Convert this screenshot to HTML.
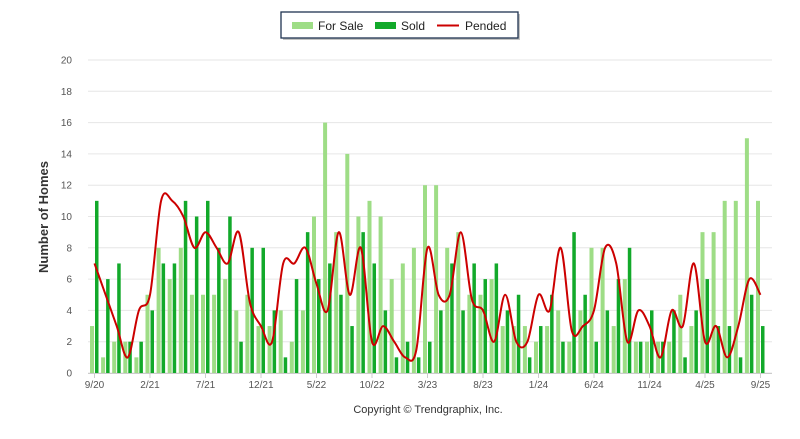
<!DOCTYPE html>
<html><head><meta charset="utf-8"><style>
body{margin:0;background:#fff;width:800px;height:434px;overflow:hidden;font-family:"Liberation Sans",Arial,sans-serif}
</style></head><body>
<svg id="c" width="800" height="434" xmlns="http://www.w3.org/2000/svg" font-family="Liberation Sans, Arial, sans-serif">
<rect x="283" y="14" width="237" height="26" fill="#888" opacity="0.5"/>
<rect x="281" y="12" width="237" height="26" fill="#fff" stroke="#1f3350" stroke-width="1.3"/>
<rect x="292" y="22" width="21" height="7" fill="#9edd86"/>
<text x="318" y="30" font-size="12" fill="#222">For Sale</text>
<rect x="375" y="22" width="21" height="7" fill="#12a92a"/>
<text x="401" y="30" font-size="12" fill="#222">Sold</text>
<line x1="437" y1="25.5" x2="459" y2="25.5" stroke="#cc0000" stroke-width="2"/>
<text x="465" y="30" font-size="12" fill="#222">Pended</text>
<text transform="translate(48,217) rotate(-90)" text-anchor="middle" font-size="13" font-weight="bold" fill="#333">Number of Homes</text>
<text x="428" y="413" text-anchor="middle" font-size="11" fill="#333">Copyright © Trendgraphix, Inc.</text>
<g id="g"></g>
</svg>
<script>
var fs=[3,1,2,2,1,5,8,6,8,5,5,5,6,4,5,3,3,4,2,4,10,16,9,14,10,11,10,6,7,8,12,12,8,9,5,5,6,3,3,3,2,3,4,2,4,8,8,3,6,2,2,2,2,5,3,9,9,11,11,15,11];
var sd=[11,6,7,2,2,4,7,7,11,10,11,8,10,2,8,8,4,1,6,9,6,7,5,3,9,7,4,1,2,1,2,4,7,4,7,6,7,4,5,1,3,5,2,9,5,2,4,6,8,2,4,2,4,1,4,6,3,3,1,5,3];
var pd=[7,5,3,1,4,5,11,11,10,8,9,8,7,9,4.5,3,2,7,7,8,5.7,4,9,5,8,2,3,2,1,1.5,8,5,5,9,4.7,4,2,5,2,2,5,4,8,2.7,3,4,8,7,2,4,3,1,4,3,7,2,3,1,3,6,5];
var y0=373,u=15.65,s='';
function X(i){return 94.5+11.1*i}
function Y(v){return y0-v*u}
for(var v=0;v<=20;v+=2){s+='<line x1="88" x2="772" y1="'+Y(v)+'" y2="'+Y(v)+'" stroke="#e6e6e6"/>';
s+='<text x="72" y="'+(Y(v)+3.5)+'" text-anchor="end" font-size="10" fill="#555">'+v+'</text>';}
for(var i=0;i<61;i++){var x=X(i);
s+='<rect x="'+(x-4.5)+'" y="'+Y(fs[i])+'" width="4" height="'+(fs[i]*u)+'" fill="#9edd86"/>';
s+='<rect x="'+(x+0.5)+'" y="'+Y(sd[i])+'" width="3.5" height="'+(sd[i]*u)+'" fill="#12a92a"/>';}
s+='<line x1="88" x2="772" y1="373.5" y2="373.5" stroke="#ccc"/>';
var lb=['9/20','2/21','7/21','12/21','5/22','10/22','3/23','8/23','1/24','6/24','11/24','4/25','9/25'];
for(var k=0;k<13;k++){var x=X(k*5);s+='<line x1="'+x+'" x2="'+x+'" y1="373" y2="378" stroke="#ccc"/>';
s+='<text x="'+x+'" y="388" text-anchor="middle" font-size="10" fill="#555">'+lb[k]+'</text>';}
var d='M'+X(0)+','+Y(pd[0]);
for(var i=0;i<60;i++){var p0=i>0?i-1:i,p3=i<59?i+2:i+1;
var c1x=X(i)+(X(i+1)-X(p0))/6,c1y=Y(pd[i])+(Y(pd[i+1])-Y(pd[p0]))/6;
var c2x=X(i+1)-(X(p3)-X(i))/6,c2y=Y(pd[i+1])-(Y(pd[p3])-Y(pd[i]))/6;
d+=' C'+c1x.toFixed(1)+','+c1y.toFixed(1)+' '+c2x.toFixed(1)+','+c2y.toFixed(1)+' '+X(i+1).toFixed(1)+','+Y(pd[i+1]).toFixed(1);}
s+='<path d="'+d+'" fill="none" stroke="#cc0000" stroke-width="2"/>';
document.getElementById('g').innerHTML=s;
</script>
</body></html>
